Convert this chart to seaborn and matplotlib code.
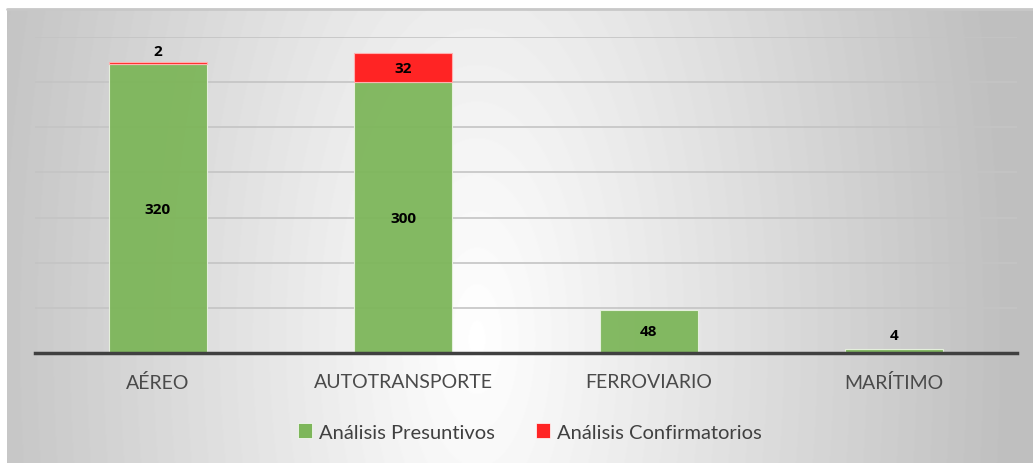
import numpy as np
import pandas as pd
import matplotlib.pyplot as plt
import seaborn as sns

# Chart data
categorias = ['AÉREO', 'AUTOTRANSPORTE', 'FERROVIARIO', 'MARÍTIMO']
presuntivos = [320, 300, 48, 4]
confirmatorios = [2, 32, 0, 0]
series = ['Análisis Presuntivos', 'Análisis Confirmatorios']
colores = ['#7DB65A', '#FF2424']


def main():
    sns.set_style('white')
    plt.rcParams['font.family'] = ['Lato', 'DejaVu Sans']

    df = pd.DataFrame({'categoria': categorias,
                       'presuntivos': presuntivos,
                       'confirmatorios': confirmatorios})

    fig = plt.figure(figsize=(10.33, 4.64), dpi=100)
    fig.patch.set_facecolor('white')

    # Radial grey gradient behind the chart area
    bg = fig.add_axes([7 / 1033, 0, 1 - 7 / 1033, 1 - 10 / 464], zorder=-5)
    h, w = 454, 1026
    yy, xx = np.mgrid[0:h, 0:w]
    d = np.sqrt((xx - 470) ** 2 + ((yy - 330) / 2.2) ** 2)
    shade = np.clip(255 - 0.12 * d, 192, 255) / 255
    bg.imshow(shade, cmap='gray', vmin=0, vmax=1, aspect='auto',
              extent=[0, 1, 0, 1])
    bg.set_xlim(0, 1)
    bg.set_ylim(0, 1)
    bg.axis('off')
    bg.plot([0, 1], [1, 1], color='#c8c8c8', lw=2, clip_on=False)

    ax = fig.add_axes([35 / 1033, 1 - 354 / 464, 982 / 1033, 316 / 464])
    ax.set_facecolor('none')

    # Stacked bars
    sns.barplot(data=df, x='categoria', y='presuntivos', color=colores[0],
                width=0.4, ax=ax, saturation=1, edgecolor='#e8f2e0',
                linewidth=0.8, zorder=2, alpha=0.95)
    for i, (p, c) in enumerate(zip(presuntivos, confirmatorios)):
        if c > 0:
            ax.bar(i, c, bottom=p, width=0.4, color=colores[1],
                   edgecolor='#ffb0b0', linewidth=0.8, zorder=2)

    ax.set_ylim(0, 350)
    ax.set_xlim(-0.5, 3.5)
    ax.set_yticks(range(0, 351, 50))
    ax.yaxis.grid(True, color='#c4c4c4', lw=1.2, zorder=1)
    ax.set_axisbelow(True)
    ax.tick_params(axis='y', left=False, labelleft=False)
    ax.tick_params(axis='x', bottom=False, pad=11, labelsize=14,
                   labelcolor='#4a4a4a')
    ax.set_xlabel('')
    ax.set_ylabel('')
    for s in ['top', 'right', 'left']:
        ax.spines[s].set_visible(False)
    ax.spines['bottom'].set_color('#404040')
    ax.spines['bottom'].set_linewidth(2.5)
    ax.spines['bottom'].set_zorder(4)

    # Data labels
    lab = dict(ha='center', fontsize=11, fontweight='bold', color='black',
               zorder=5, family=['Open Sans', 'DejaVu Sans'])
    for i, (p, c) in enumerate(zip(presuntivos, confirmatorios)):
        if p >= 20:
            ax.text(i, p / 2, str(p), va='center', **lab)
        elif p > 0:
            ax.text(i, p + 8, str(p), va='bottom', **lab)
        if c >= 20:
            ax.text(i, p + c / 2, str(c), va='center', **lab)
        elif c > 0:
            ax.text(i, p + c + 5, str(c), va='bottom', **lab)

    handles = [plt.Rectangle((0, 0), 1, 1, facecolor=col,
                             edgecolor='white', lw=0.5) for col in colores]
    fig.legend(handles, series, loc='center', bbox_to_anchor=(0.513, 1 - 433 / 464),
               ncol=2, frameon=False, fontsize=14.5, handlelength=0.7,
               handleheight=0.7, handletextpad=0.35, columnspacing=2.0,
               labelcolor='#404040')

    fig.savefig('out.png', dpi=100)


if __name__ == '__main__':
    main()
